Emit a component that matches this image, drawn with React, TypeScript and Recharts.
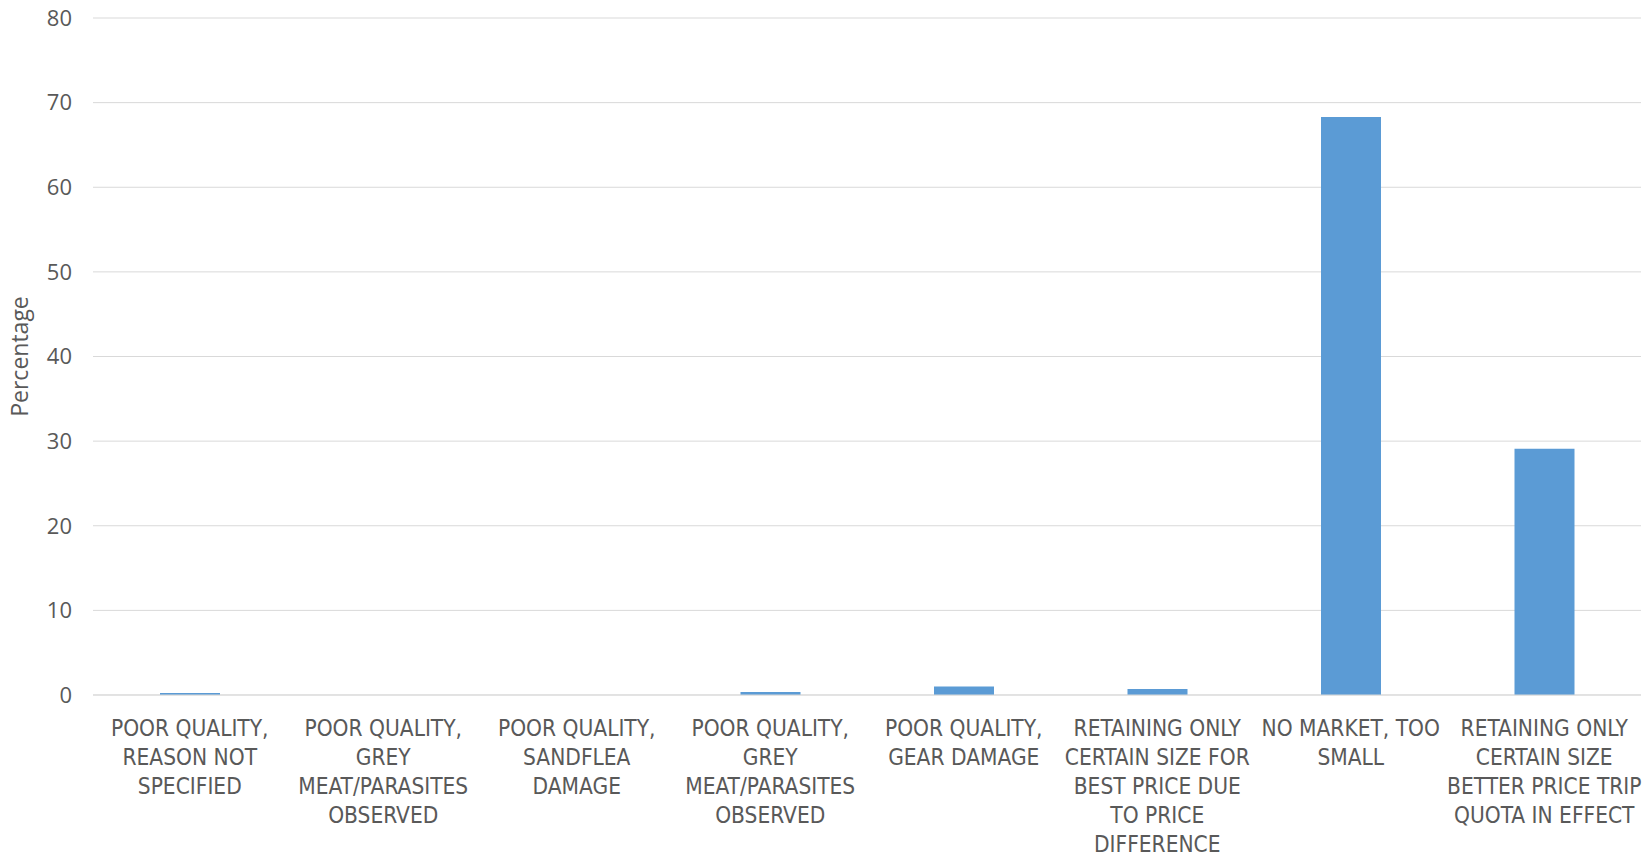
import React from "react";
import { BarChart, Bar, XAxis, YAxis, CartesianGrid, Label } from "recharts";

const categories = [
    ["POOR QUALITY,", "REASON NOT", "SPECIFIED"],
    ["POOR QUALITY,", "GREY", "MEAT/PARASITES", "OBSERVED"],
    ["POOR QUALITY,", "SANDFLEA", "DAMAGE"],
    ["POOR QUALITY,", "GREY", "MEAT/PARASITES", "OBSERVED"],
    ["POOR QUALITY,", "GEAR DAMAGE"],
    ["RETAINING ONLY", "CERTAIN SIZE FOR", "BEST PRICE DUE", "TO PRICE", "DIFFERENCE"],
    ["NO MARKET, TOO", "SMALL"],
    ["RETAINING ONLY", "CERTAIN SIZE", "BETTER PRICE TRIP", "QUOTA IN EFFECT"],
];

const percentages = [0.25, 0, 0, 0.35, 1.0, 0.7, 68.3, 29.1];

const yTicks = [0, 10, 20, 30, 40, 50, 60, 70, 80];

const rows = categories.map((lines, i) => ({
    key: String(i),
    value: percentages[i],
}));

const LABEL_FONT = "'Liberation Sans Narrow', 'DejaVu Sans Condensed', sans-serif";

function CategoryTick(props: any) {
    const { x, y, payload } = props;
    const lines = categories[Number(payload.value)] ?? [];
    return (
        <g transform={`translate(${x},${y})`}>
            <text textAnchor="middle" fill="#595959" fontSize={22.5} fontFamily={LABEL_FONT}>
                {lines.map((l, i) => (
                    <tspan key={i} x={0} y={33 + i * 29}>
                        {l}
                    </tspan>
                ))}
            </text>
        </g>
    );
}

export default function App() {
    return (
        <div style={{ position: "absolute", left: 0, top: 0, background: "#fff" }}>
            <BarChart
                width={1649}
                height={855}
                data={rows}
                margin={{ top: 18, right: 8, left: 0, bottom: 0 }}
                barSize={60}
            >
                <CartesianGrid vertical={false} stroke="#d9d9d9" />
                <XAxis
                    dataKey="key"
                    height={160}
                    tickLine={false}
                    axisLine={{ stroke: "#d9d9d9" }}
                    interval={0}
                    tick={<CategoryTick />}
                />
                <YAxis
                    width={93}
                    domain={[0, 80]}
                    ticks={yTicks}
                    tickLine={false}
                    axisLine={false}
                    tickSize={0}
                    tickMargin={21}
                    tick={{ fill: "#595959", fontSize: 22, fontFamily: "'Open Sans', sans-serif" }}
                >
                    <Label
                        value="Percentage"
                        angle={-90}
                        position="insideLeft"
                        offset={20}
                        style={{ fill: "#595959", fontSize: 23, fontFamily: "'Open Sans', sans-serif", textAnchor: "middle" }}
                    />
                </YAxis>
                <Bar dataKey="value" fill="#5b9bd5" isAnimationActive={false} />
            </BarChart>
        </div>
    );
}
